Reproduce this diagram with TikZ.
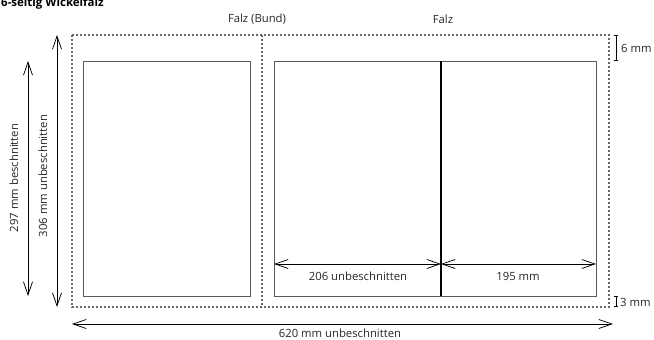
\documentclass[tikz,border=0pt]{standalone}
\usepackage{fontspec}
\setmainfont{Open Sans}
\usetikzlibrary{arrows.meta}
\tikzset{
  trim/.style={draw=black!60, dash pattern=on 1.8pt off 2.2pt, line width=1.2pt},
  panel/.style={draw=black!65, line width=0.95pt, inner sep=0pt, outer sep=0pt},
  dim/.style={draw=black, line width=0.75pt, {Straight Barb[length=13pt,width=9pt]}-{Straight Barb[length=13pt,width=9pt]}},
  lbl/.style={font=\fontsize{11.3}{13}\selectfont, text=black!85, inner sep=0pt},
  brk/.style={draw=black, line width=0.8pt, {Bar[width=4pt]}-{Bar[width=4pt]}}
}
\begin{document}
\begin{tikzpicture}[x=1pt,y=-1pt]
\useasboundingbox (0,0) rectangle (654,340);
% title
\node[anchor=base west, inner sep=0pt, font=\bfseries\fontsize{11.5}{13}\selectfont] (title) at (1,6) {6-seitig Wickelfalz};
% trim boundary
\coordinate (tl) at (72,35);
\coordinate (br) at (609,307);
\draw[trim] (tl) rectangle (br);
\coordinate (ft) at (262,35);
\coordinate (fb) at (262,307);
\draw[trim] (ft) -- (fb);
% panels
\draw[panel] (83,61) rectangle (250,296);
\draw[panel] (274,61) rectangle (596,296);
\coordinate (mt) at (441,61);
\coordinate (mb) at (441,296);
\draw[line width=1.3pt, black] (mt) -- (mb);
% labels top
\node[lbl] (fbund) at (257,19) {Falz (Bund)};
\node[lbl] (falz) at (443,19) {Falz};
% vertical dims
\coordinate (a1) at (28,61);
\coordinate (a2) at (28,296);
\draw[dim] (a1) -- (a2);
\node[lbl, rotate=90] (l297) at (14,178) {297 mm beschnitten};
\coordinate (b1) at (57,35);
\coordinate (b2) at (57,307);
\draw[dim] (b1) -- (b2);
\node[lbl, rotate=90] (l306) at (43,176) {306 mm unbeschnitten};
% inner dims
\coordinate (c1) at (274,264);
\coordinate (c2) at (441,264);
\coordinate (c3) at (596,264);
\draw[dim] (c1) -- (c2);
\draw[dim] (c2) -- (c3);
\node[lbl] (l206) at (358,276) {206 unbeschnitten};
\node[lbl] (l195) at (518,276) {195 mm};
% bottom dim
\coordinate (d1) at (72,324);
\coordinate (d2) at (613,324);
\draw[dim] (d1) -- (d2);
\node[lbl] (l620) at (340,333) {620 mm unbeschnitten};
% brackets
\coordinate (e1) at (616,35);
\coordinate (e2) at (616,61);
\draw[brk] (e1) -- (e2);
\node[lbl, anchor=west] (l6) at (621,48) {6 mm};
\coordinate (f1) at (616,296);
\coordinate (f2) at (616,307);
\draw[brk] (f1) -- (f2);
\node[lbl, anchor=west] (l3) at (620,302) {3 mm};
\end{tikzpicture}
\end{document}
